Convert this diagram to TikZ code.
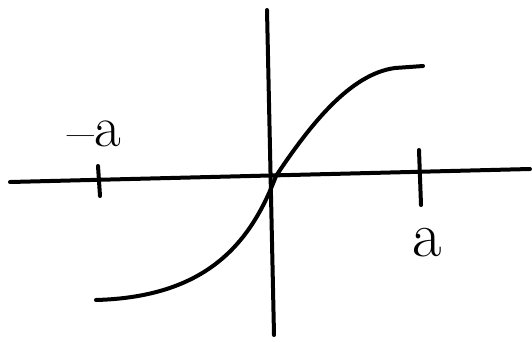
\documentclass[tikz,border=0pt]{standalone}
\begin{document}
\begin{tikzpicture}[x=1pt,y=-1pt,
  ink/.style={line width=4pt,line cap=round,line join=round},
  lbl/.style={font=\fontsize{58}{62}\selectfont,inner sep=0pt}]
\useasboundingbox (0,0) rectangle (532,341);
\coordinate (xl) at (10,182);
\coordinate (xr) at (530,169);
\coordinate (yt) at (267,10);
\coordinate (yb) at (274,335);
\draw[ink] (xl) -- (xr);
\draw[ink] (yt) -- (yb);
\coordinate (t1a) at (98,166);
\coordinate (t1b) at (100,196);
\draw[ink] (t1a) -- (t1b);
\coordinate (t2a) at (419,150);
\coordinate (t2b) at (421,205);
\draw[ink] (t2a) -- (t2b);
\coordinate (c0) at (96,300);
\coordinate (o) at (276,176);
\coordinate (c2) at (395,68);
\coordinate (c3) at (423,66);
\draw[ink] (c0) .. controls (205,297) and (250,245) .. (o)
  .. controls (310,125) and (350,74) .. (c2) -- (c3);
\node[lbl] (ma) at (94,136) {\raisebox{-0.09em}{--}a};
\node[lbl,font=\fontsize{64}{68}\selectfont] (pa) at (427,243) {a};
\end{tikzpicture}
\end{document}
